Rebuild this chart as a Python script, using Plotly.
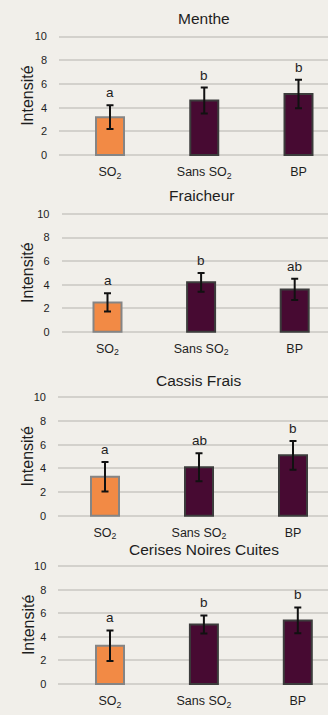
import plotly.graph_objects as go

W, H = 328, 715

# Sensory attributes, treatments and scores
attributes = ["Menthe", "Fraicheur", "Cassis Frais", "Cerises Noires Cuites"]
treatments = ["SO<sub>2</sub>", "Sans SO<sub>2</sub>", "BP"]
means = [
    [3.2, 4.6, 5.15],
    [2.5, 4.2, 3.6],
    [3.3, 4.1, 5.1],
    [3.25, 5.05, 5.4],
]
errors = [
    [1.0, 1.1, 1.2],
    [0.77, 0.8, 0.9],
    [1.25, 1.18, 1.22],
    [1.3, 0.77, 1.1],
]
letters = [
    ["a", "b", "b"],
    ["a", "b", "ab"],
    ["a", "ab", "b"],
    ["a", "b", "b"],
]
y_title = "Intensité"

# Pixel geometry of each panel: y of 0, y of 10, left edge, bar centres, title y
panels = [
    dict(zero=152.0, ten=32.0, left=59.0, centers=[110.0, 204.5, 298.5], title=14),
    dict(zero=331.0, ten=211.7, left=61.5, centers=[107.5, 201.2, 294.7], title=193),
    dict(zero=517.3, ten=397.3, left=58.0, centers=[105.0, 199.0, 293.0], title=380),
    dict(zero=687.7, ten=568.3, left=58.3, centers=[110.0, 203.7, 297.8], title=551),
]

bar_colors = ["#f28a45", "#470a32", "#470a32"]
line_colors = ["#858585", "#3c3c3c", "#3c3c3c"]
BG = "#f1efea"
FONT = "Liberation Sans, Arial, sans-serif"
INK = "#1e1e1e"

fig = go.Figure()
layout = dict(
    width=W, height=H,
    margin=dict(l=0, r=0, t=0, b=0),
    paper_bgcolor=BG, plot_bgcolor=BG,
    showlegend=False,
    font=dict(family=FONT, color=INK),
)
annotations = []

for i, p in enumerate(panels):
    n = i + 1
    xa = "x" if n == 1 else f"x{n}"
    ya = "y" if n == 1 else f"y{n}"
    k = (p["centers"][2] - p["centers"][0]) / 2.0  # px per category
    c0 = p["centers"][0]
    x0 = -(c0 - p["left"]) / k
    x1 = (W - c0) / k
    pu = (p["zero"] - p["ten"]) / 10.0  # px per unit
    ylo, yhi = -0.12, 10.12
    ybot_px = p["zero"] + (0 - ylo) * pu
    ytop_px = p["ten"] - (yhi - 10) * pu

    fig.add_trace(go.Bar(
        x=[0, 1, 2], y=means[i],
        width=28.0 / k,
        marker=dict(color=bar_colors, line=dict(color=line_colors, width=2)),
        error_y=dict(type="data", array=errors[i], visible=True,
                     color="#111", thickness=2, width=3.5),
        xaxis=xa, yaxis=ya, hoverinfo="skip",
    ))

    layout["xaxis" if n == 1 else f"xaxis{n}"] = dict(
        domain=[p["left"] / W, 1.0], range=[x0, x1], anchor=ya,
        tickvals=[0, 1, 2], ticktext=treatments,
        tickfont=dict(size=12.5, family=FONT, color=INK),
        showgrid=False, zeroline=False, showline=False,
        ticks="", ticklabelstandoff=6, fixedrange=True,
    )
    layout["yaxis" if n == 1 else f"yaxis{n}"] = dict(
        domain=[1 - ybot_px / H, 1 - ytop_px / H], range=[ylo, yhi], anchor=xa,
        tickvals=[0, 2, 4, 6, 8, 10],
        tickfont=dict(size=11, family=FONT, color=INK),
        showgrid=True, gridcolor="#d3d1cc", gridwidth=1.5,
        zeroline=False, showline=False, ticks="", ticklabelstandoff=11,
        fixedrange=True,
    )

    # Vertical axis title, set close to the tick labels
    annotations.append(dict(
        x=28 / W, y=1 - (p["zero"] + p["ten"]) / 2 / H, xref="paper", yref="paper",
        text=y_title, textangle=-90, showarrow=False,
        xanchor="center", yanchor="middle",
        font=dict(size=16, family=FONT, color=INK),
    ))
    # Significance letters above the error bars
    for j in range(3):
        annotations.append(dict(
            x=j, y=means[i][j] + errors[i][j], xref=xa, yref=ya,
            text=letters[i][j], showarrow=False, yanchor="bottom", yshift=3,
            font=dict(size=13.5, family=FONT, color=INK),
        ))
    # Panel title
    annotations.append(dict(
        x=1, y=1 - p["title"] / H, xref=xa, yref="paper",
        text=attributes[i], showarrow=False, yanchor="middle",
        font=dict(size=15.5, family=FONT, color=INK),
    ))

layout["annotations"] = annotations
fig.update_layout(**layout)
fig.write_html("out.html")
